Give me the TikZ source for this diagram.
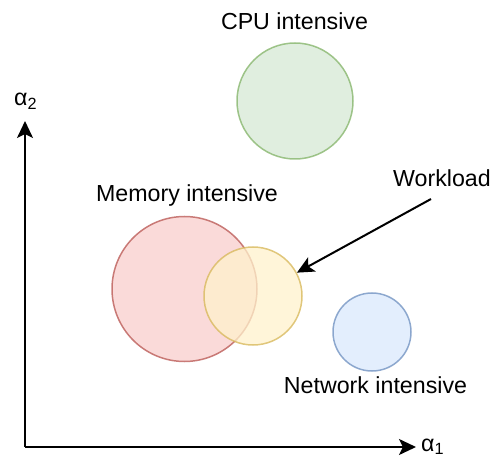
\documentclass[tikz,border=0pt]{standalone}
\usepackage{fontspec}
\setmainfont{Liberation Sans}
\usetikzlibrary{arrows.meta}
\definecolor{gfill}{HTML}{D5E8D4}\definecolor{gline}{HTML}{82B366}
\definecolor{rfill}{HTML}{F8CECC}\definecolor{rline}{HTML}{B85450}
\definecolor{yfill}{HTML}{FFF2CC}\definecolor{yline}{HTML}{D6B656}
\definecolor{bfill}{HTML}{DAE8FC}\definecolor{bline}{HTML}{6C8EBF}
\tikzset{
  x=1pt, y=-1pt,
  blob/.style={circle, inner sep=0pt, line width=1.5pt, fill opacity=0.75, draw opacity=0.75},
  lbl/.style={anchor=base, inner sep=0pt, font=\fontsize{23.2}{26}\selectfont},
  axis/.style={line width=2pt, -{Stealth[length=17pt, width=16pt, inset=4pt]}},
}
\begin{document}
\begin{tikzpicture}
\useasboundingbox (0,0) rectangle (493,457);
\node[blob, fill=gfill, draw=gline, minimum size=116pt] (cpu) at (295,101) {};
\node[blob, fill=rfill, draw=rline, minimum size=145pt] (mem) at (184.5,289) {};
\node[blob, fill=yfill, draw=yline, minimum size=98pt] (wl) at (253,296) {};
\node[blob, fill=bfill, draw=bline, minimum size=78pt] (net) at (372,332) {};
\node[lbl] (cpul) at (294.5,30) {CPU intensive};
\node[lbl] (meml) at (187,201.5) {Memory intensive};
\node[lbl] (netl) at (375.5,393) {Network intensive};
\node[lbl] (wll) at (442,187) {Workload};
\coordinate (o) at (25,447);
\coordinate (ytip) at (25,121);
\coordinate (xtip) at (416,447);
\coordinate (ws) at (431,199);
\draw[axis] (o) -- (ytip);
\draw[axis] (o) -- (xtip);
\node[lbl, anchor=base west] (a2) at (14,106) {α\textsubscript{2}};
\node[lbl, anchor=base west] (a1) at (421,451) {α\textsubscript{1}};
\draw[line width=2pt, -{Stealth[length=17pt, width=16pt, inset=4pt]}] (ws) -- (wl.28);
\end{tikzpicture}
\end{document}
